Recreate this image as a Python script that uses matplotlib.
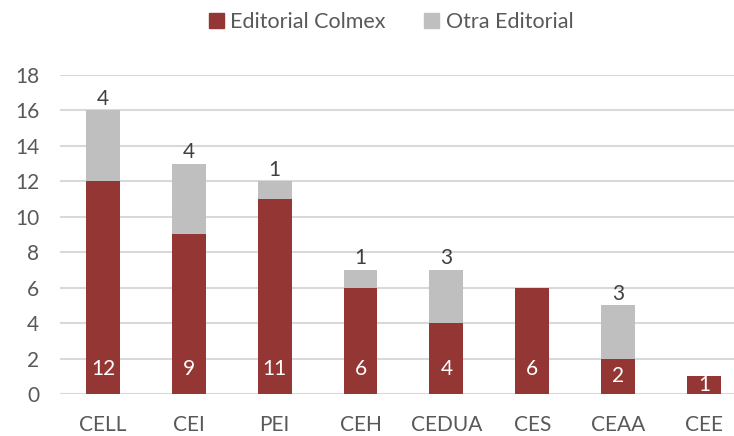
import numpy as np
import matplotlib.pyplot as plt
from matplotlib.patches import Patch

categories = ['CELL', 'CEI', 'PEI', 'CEH', 'CEDUA', 'CES', 'CEAA', 'CEE']
colmex = [12, 9, 11, 6, 4, 6, 2, 1]
otra = [4, 4, 1, 1, 3, 0, 3, 0]

red = '#943634'
gray = '#BFBFBF'
txt = '#595959'

plt.rcParams['font.family'] = ['Lato', 'DejaVu Sans']
fs = 15

fig = plt.figure(figsize=(7.34, 4.36), dpi=100)
ax = fig.add_axes([60 / 734, (436 - 394) / 436, (734 - 60) / 734, 319 / 436])

x = np.arange(len(categories))
w = 0.395
ax.bar(x, colmex, w, color=red, zorder=3)
ax.bar(x, otra, w, bottom=colmex, color=gray, zorder=3)

for xi, c, o in zip(x, colmex, otra):
    yc = min(1.42, c / 2)
    ax.text(xi, yc, str(c), ha='center', va='center', color='white', fontsize=fs, zorder=4)
    if o > 0:
        ax.text(xi, c + o + 0.1, str(o), ha='center', va='bottom', color='#404040', fontsize=fs, zorder=4)

ax.set_ylim(0, 18)
ax.set_xlim(-0.5, 7.35)
ax.set_yticks(range(0, 19, 2))
ax.set_xticks(x)
ax.set_xticklabels(categories)
ax.tick_params(axis='both', length=0, labelsize=fs, colors=txt)
ax.tick_params(axis='x', pad=15)
ax.tick_params(axis='y', pad=15)
ax.grid(axis='y', color='#D9D9D9', linewidth=1.5, zorder=0)
for s in ax.spines.values():
    s.set_visible(False)

handles = [Patch(color=red), Patch(color=gray)]
fig.legend(handles, ['Editorial Colmex', 'Otra Editorial'], loc='center',
           bbox_to_anchor=(391 / 734, 1 - 22 / 436), ncol=2, frameon=False,
           fontsize=15.5, labelcolor=txt, handlelength=0.7, handleheight=0.7,
           handletextpad=0.3, columnspacing=1.8)

fig.savefig('out.png', dpi=100)
